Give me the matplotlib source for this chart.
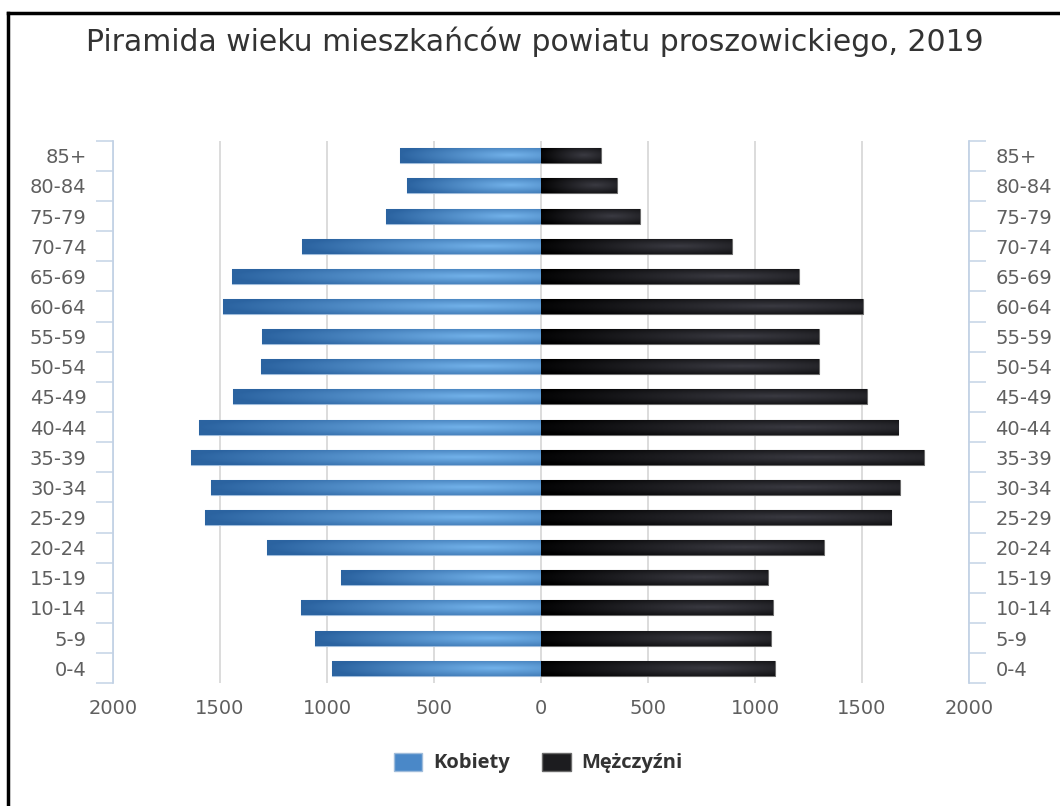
import numpy as np
import matplotlib
matplotlib.use("Agg")
import matplotlib.pyplot as plt
from matplotlib.patches import Patch
from matplotlib.lines import Line2D

# age groups, bottom to top
age_groups = ["0-4", "5-9", "10-14", "15-19", "20-24", "25-29", "30-34", "35-39",
              "40-44", "45-49", "50-54", "55-59", "60-64", "65-69", "70-74",
              "75-79", "80-84", "85+"]
kobiety = [975, 1055, 1120, 935, 1280, 1570, 1540, 1635, 1600, 1440,
           1310, 1305, 1485, 1445, 1115, 725, 625, 660]
mezczyzni = [1090, 1073, 1082, 1057, 1322, 1636, 1677, 1786, 1669, 1520,
             1297, 1297, 1504, 1205, 891, 459, 352, 277]

title = "Piramida wieku mieszkańców powiatu proszowickiego, 2019"
axis_blue = "#c3d3e6"


def gradient(light, dark, center=0.78):
    """ Shaded fill, dark at the left end, highlight near the right """
    t = np.linspace(0, 1, 200)[None, :]
    u = np.linspace(-1, 1, 30)[:, None]
    r = np.sqrt(((t - center) / 0.78) ** 2 + (u / 1.7) ** 2)
    r = np.clip(r, 0, 1)[..., None]
    return np.array(light) * (1 - r) + np.array(dark) * r


blue_grad = gradient((0.45, 0.70, 0.92), (0.17, 0.39, 0.63))
black_grad = gradient((0.23, 0.23, 0.26), (0.0, 0.0, 0.0), center=0.72)

fig = plt.figure(figsize=(10.6, 8.06), dpi=100)
ax = fig.add_axes([113 / 1060, 1 - 683.3 / 806, (969 - 113) / 1060, (683.3 - 140.7) / 806])

y = np.arange(len(age_groups))
bars_k = ax.barh(y, [-v for v in kobiety], height=0.5, color="#4a86c2",
                 edgecolor="#9fbcdb", linewidth=0.8, zorder=3)
bars_m = ax.barh(y, mezczyzni, height=0.5, left=1.5, color="#1c1c1f",
                 edgecolor="#6b6b6b", linewidth=0.8, zorder=3)

# gradient overlay clipped to each bar
for bars, grad in ((bars_k, blue_grad), (bars_m, black_grad)):
    for b in bars:
        x0, y0 = b.get_x(), b.get_y()
        w, h = b.get_width(), b.get_height()
        xl, xr = min(x0, x0 + w), max(x0, x0 + w)
        im = ax.imshow(grad, extent=[xl, xr, y0, y0 + h], aspect="auto",
                       interpolation="bilinear", zorder=3.5)
        im.set_clip_path(b)

ax.set_xlim(-2000, 2000)
ax.set_ylim(-0.5, len(age_groups) - 0.5)
ax.set_aspect("auto")

ax.set_xticks(np.arange(-2000, 2001, 500))
ax.set_xticklabels([str(abs(v)) for v in range(-2000, 2001, 500)])
ax.tick_params(axis="x", length=0, pad=11, labelsize=14, labelcolor="#5f5f5f")
ax.grid(axis="x", color="#d9d9d9", linewidth=1.3, zorder=0)
ax.set_axisbelow(True)

# category boundaries as ticks, labels centred on bars
ax.set_yticks(np.arange(-0.5, len(age_groups), 1.0))
ax.set_yticklabels([])
ax.set_yticks(y, minor=True)
ax.set_yticklabels(age_groups, minor=True)
ax.tick_params(axis="y", which="major", direction="out", length=12.5, width=1.1,
               color=axis_blue, left=True, right=True)
ax.tick_params(axis="y", which="minor", length=0, labelsize=14, labelcolor="#5f5f5f",
               left=True, right=True, labelleft=True, labelright=True, pad=19)

for side in ("top", "bottom"):
    ax.spines[side].set_visible(False)
for side in ("left", "right"):
    ax.spines[side].set_color(axis_blue)
    ax.spines[side].set_linewidth(1.3)

fig.text(0.505, 1 - 42 / 806, title, ha="center", va="center",
         fontsize=21.5, color="#333333")

handles = [Patch(facecolor="#4a88c8", edgecolor="#9fbcdb"),
           Patch(facecolor="#1c1c1f", edgecolor="#6b6b6b")]
fig.legend(handles, ["Kobiety", "Mężczyźni"], loc="center",
           bbox_to_anchor=(0.508, 1 - 763 / 806), ncol=2, frameon=False,
           prop={"family": "Open Sans", "weight": "bold", "size": 14.5},
           labelcolor="#333333", handlelength=1.4, handleheight=1.0,
           handletextpad=0.55, columnspacing=1.6)

# frame lines of the cropped screenshot
fig.add_artist(Line2D([8 / 1060, 1], [1 - 13 / 806] * 2, transform=fig.transFigure,
                      color="black", linewidth=2.5))
fig.add_artist(Line2D([8 / 1060] * 2, [0, 1 - 13 / 806], transform=fig.transFigure,
                      color="black", linewidth=2.5))

fig.savefig("out.png", dpi=100)
